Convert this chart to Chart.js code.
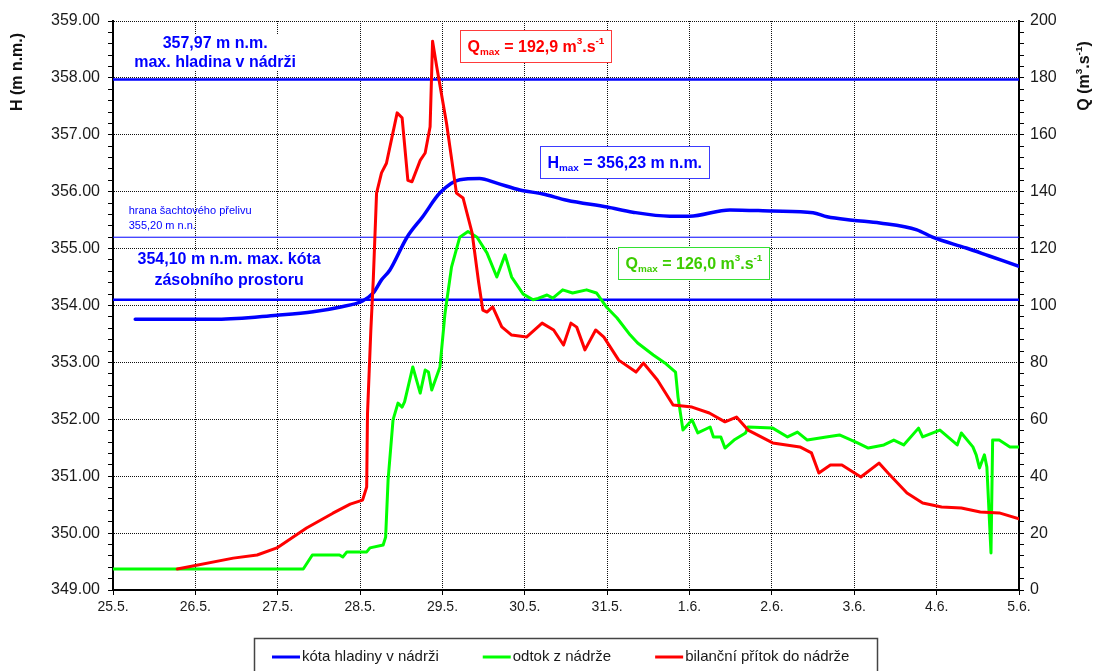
<!DOCTYPE html>
<html>
<head>
<meta charset="utf-8">
<title>Průběh povodně na nádrži</title>
<script src="https://cdn.jsdelivr.net/npm/chart.js@4.4.1/dist/chart.umd.min.js"></script>
<style>
  html, body { margin: 0; padding: 0; background: #fff; }
  #wrap { width: 1096px; height: 671px; }
</style>
</head>
<body>
<div id="wrap"><canvas id="flood"></canvas></div>
<script>
// x axis runs in days from 25.5. (0) to 5.6. (11)
const dayLabels = ['25.5.', '26.5.', '27.5.', '28.5.', '29.5.', '30.5.', '31.5.', '1.6.', '2.6.', '3.6.', '4.6.', '5.6.'];

// water level in the reservoir, m n.m.
const levelDays = [0.27, 1.27, 1.99, 2.43, 2.75, 3.03, 3.16, 3.26, 3.36, 3.57, 3.76, 3.97, 4.21, 4.45, 4.66, 4.94, 5.22, 5.51, 6.00, 6.31, 6.76, 7.00, 7.49, 8.01, 8.50, 8.67, 8.98, 9.31, 9.76, 9.95, 10.36, 10.64, 11.0];
const levelH = [353.76, 353.76, 353.83, 353.89, 353.97, 354.08, 354.22, 354.45, 354.62, 355.20, 355.56, 355.98, 356.21, 356.23, 356.15, 356.03, 355.96, 355.85, 355.73, 355.64, 355.57, 355.57, 355.68, 355.66, 355.63, 355.56, 355.50, 355.45, 355.33, 355.20, 355.01, 354.87, 354.69];

// outflow from the reservoir, m3/s
const outflowDays = [0, 2.31, 2.42, 2.75, 2.79, 2.84, 3.08, 3.12, 3.28, 3.31, 3.34, 3.40, 3.46, 3.51, 3.54, 3.64, 3.73, 3.79, 3.83, 3.87, 3.97, 4.03, 4.11, 4.21, 4.31, 4.42, 4.54, 4.66, 4.76, 4.84, 4.98, 5.10, 5.16, 5.27, 5.34, 5.46, 5.58, 5.75, 5.87, 5.99, 6.12, 6.28, 6.37, 6.56, 6.70, 6.83, 6.86, 6.92, 7.03, 7.10, 7.25, 7.29, 7.38, 7.43, 7.54, 7.68, 7.71, 8.01, 8.19, 8.31, 8.43, 8.66, 8.82, 9.04, 9.17, 9.36, 9.48, 9.60, 9.78, 9.83, 10.04, 10.25, 10.30, 10.44, 10.48, 10.52, 10.58, 10.61, 10.66, 10.68, 10.76, 10.89, 11.0];
const outflowQ = [7.4, 7.4, 12.3, 12.3, 11.6, 13.4, 13.4, 14.8, 15.8, 18.6, 38.7, 59.8, 65.7, 64.3, 66.1, 78.4, 69.2, 77.3, 76.6, 70.3, 78.4, 97.0, 113.5, 124.0, 126.0, 124.0, 118.5, 110.0, 117.8, 110.0, 104.0, 102.0, 102.5, 103.7, 102.6, 105.5, 104.4, 105.5, 104.4, 99.5, 95.6, 89.6, 86.8, 82.6, 79.8, 76.6, 67.8, 56.2, 59.8, 55.2, 57.3, 53.8, 53.8, 49.9, 52.7, 55.2, 57.3, 56.9, 53.8, 55.5, 52.7, 53.8, 54.5, 51.7, 49.9, 51.0, 52.7, 51.0, 56.9, 53.8, 56.2, 51.0, 55.2, 50.3, 47.5, 42.9, 47.5, 43.2, 13.0, 52.7, 52.7, 50.3, 50.3];

// balance inflow into the reservoir, m3/s
const inflowDays = [0.78, 1.46, 1.75, 1.99, 2.35, 2.67, 2.88, 3.03, 3.08, 3.09, 3.13, 3.16, 3.20, 3.26, 3.32, 3.45, 3.51, 3.58, 3.63, 3.73, 3.79, 3.85, 3.88, 3.93, 4.05, 4.17, 4.25, 4.36, 4.44, 4.49, 4.54, 4.61, 4.72, 4.84, 5.02, 5.21, 5.35, 5.47, 5.56, 5.63, 5.73, 5.86, 5.96, 6.14, 6.35, 6.44, 6.61, 6.80, 7.03, 7.24, 7.43, 7.57, 7.71, 8.01, 8.34, 8.48, 8.57, 8.71, 8.85, 9.08, 9.30, 9.41, 9.64, 9.83, 10.06, 10.30, 10.53, 10.76, 11.0];
const inflowQ = [7.4, 11.2, 12.3, 14.8, 21.8, 27.0, 30.2, 31.6, 36.2, 62.0, 91.0, 109.0, 139.5, 146.6, 150.0, 167.7, 166.0, 144.0, 143.5, 151.0, 153.6, 162.8, 192.9, 184.0, 164.0, 139.5, 137.8, 125.5, 108.0, 98.4, 97.7, 99.5, 92.5, 89.6, 88.9, 93.8, 91.4, 86.1, 93.8, 92.4, 84.4, 91.4, 88.9, 80.8, 76.6, 79.8, 73.8, 65.0, 64.3, 62.2, 59.1, 60.8, 56.2, 51.7, 50.3, 48.2, 41.1, 43.9, 43.9, 39.7, 44.6, 41.1, 34.1, 30.6, 29.2, 28.8, 27.4, 27.1, 25.0];

// max. hladina, hrana přelivu, max. kóta zásobního prostoru
const refLevels = [357.97, 355.20, 354.10];
const refWidths = [2.5, 1, 2.5];

const FONT = '"Liberation Sans", Arial, sans-serif';
const BLUE = '#0000ff';
const GREEN = '#00ff00';
const RED = '#ff0000';
const INK = '#1a1a1a';
const GRID = '#111';

function pts(xs, ys) {
    return xs.map((x, i) => ({ x: x, y: ys[i] }));
}
function czNum(v, d) {
    return v.toFixed(d).replace('.', ',');
}
function isWhole(v) {
    return Math.abs(v - Math.round(v)) < 1e-6;
}

// text made of runs, each run [text, 'sub' | 'sup' | '']
function richWidth(ctx, parts, size, weight) {
    let w = 0;
    parts.forEach(p => {
        ctx.font = `${weight} ${p[1] ? size * 0.62 : size}px ${FONT}`;
        w += ctx.measureText(p[0]).width;
    });
    return w;
}
function drawRich(ctx, parts, x, y, size, weight, color) {
    ctx.fillStyle = color;
    ctx.textAlign = 'left';
    ctx.textBaseline = 'alphabetic';
    parts.forEach(p => {
        ctx.font = `${weight} ${p[1] ? size * 0.62 : size}px ${FONT}`;
        const dy = p[1] === 'sub' ? size * 0.22 : (p[1] === 'sup' ? -size * 0.45 : 0);
        ctx.fillText(p[0], x, y + dy);
        x += ctx.measureText(p[0]).width;
    });
}

const qIn = Math.max(...inflowQ);
const qOut = Math.max(...outflowQ);
const hMax = Math.max(...levelH);

// framed value boxes: centre in data units (day, H)
const valueBoxes = [
    { day: 5.13, h: 358.56, color: RED, frame: '#ff3b3b',
      parts: [['Q', ''], ['max', 'sub'], [' = ' + czNum(qIn, 1) + ' m', ''], ['3', 'sup'], ['.s', ''], ['-1', 'sup']] },
    { day: 6.21, h: 356.52, color: BLUE, frame: '#3b3bff',
      parts: [['H', ''], ['max', 'sub'], [' = ' + czNum(hMax, 2) + ' m n.m.', '']] },
    { day: 7.05, h: 354.74, color: '#3ccc00', frame: '#33e033',
      parts: [['Q', ''], ['max', 'sub'], [' = ' + czNum(qOut, 1) + ' m', ''], ['3', 'sup'], ['.s', ''], ['-1', 'sup']] }
];

// level captions
const levelNotes = [
    { day: 1.24, h: 358.53, size: 16, weight: 'bold', align: 'center', gap: 19, bg: true,
      lines: [czNum(refLevels[0], 2) + ' m n.m.', 'max. hladina v nádrži'] },
    { day: 0.19, h: 355.61, size: 11, weight: 'normal', align: 'left', gap: 15, bg: false,
      lines: ['hrana šachtového přelivu', czNum(refLevels[1], 2) + ' m n.n.'] },
    { day: 1.41, h: 354.73, size: 16, weight: 'bold', align: 'center', gap: 21, bg: true,
      lines: [czNum(refLevels[2], 2) + ' m n.m. max. kóta', 'zásobního prostoru'] }
];

const annotations = {
    id: 'annotations',
    beforeDatasetsDraw(chart) {
        const ctx = chart.ctx;
        const xs = chart.scales.x, ys = chart.scales.yH;
        ctx.save();
        levelNotes.forEach(n => {
            const x = xs.getPixelForValue(n.day);
            const y = ys.getPixelForValue(n.h);
            ctx.font = `${n.weight} ${n.size}px ${FONT}`;
            if (n.bg) {
                const w = Math.max(...n.lines.map(l => ctx.measureText(l).width)) + 8;
                const left = n.align === 'center' ? x - w / 2 : x - 4;
                ctx.fillStyle = '#fff';
                ctx.fillRect(left, y - n.size * 0.8, w, n.gap * (n.lines.length - 1) + n.size);
            }
            ctx.fillStyle = BLUE;
            ctx.textAlign = n.align;
            ctx.textBaseline = 'alphabetic';
            n.lines.forEach((l, i) => ctx.fillText(l, x, y + i * n.gap));
        });
        ctx.restore();
    },
    afterDatasetsDraw(chart) {
        const ctx = chart.ctx;
        const xs = chart.scales.x, ys = chart.scales.yH;
        ctx.save();
        valueBoxes.forEach(b => {
            const cx = xs.getPixelForValue(b.day);
            const cy = ys.getPixelForValue(b.h);
            const tw = richWidth(ctx, b.parts, 16, 'bold');
            const w = Math.round(tw + 14), h = 32;
            const left = Math.round(cx - w / 2) + 0.5, top = Math.round(cy - h / 2) + 0.5;
            ctx.fillStyle = '#fff';
            ctx.fillRect(left, top, w, h);
            ctx.strokeStyle = b.frame;
            ctx.lineWidth = 1;
            ctx.strokeRect(left, top, w, h);
            drawRich(ctx, b.parts, left + 7, top + 21, 16, 'bold', b.color);
        });
        ctx.restore();
    }
};

// axis titles at the top of both y axes, both reading bottom to top
const axisTitles = {
    id: 'axisTitles',
    afterDraw(chart) {
        const ctx = chart.ctx;
        const titles = [
            { x: 17, y: 72, parts: [['H (m n.m.)', '']] },
            { x: 1084, y: 76, parts: [['Q (m', ''], ['3', 'sup'], ['.s', ''], ['-1', 'sup'], [')', '']] }
        ];
        titles.forEach(t => {
            ctx.save();
            ctx.translate(t.x, t.y);
            ctx.rotate(-Math.PI / 2);
            const w = richWidth(ctx, t.parts, 16, 'bold');
            drawRich(ctx, t.parts, -w / 2, 5, 16, 'bold', '#111');
            ctx.restore();
        });
    }
};

// framed legend under the x axis
const legendOrder = [2, 1, 0];
const boxLegend = {
    id: 'boxLegend',
    afterDraw(chart) {
        const ctx = chart.ctx;
        ctx.save();
        ctx.strokeStyle = '#444';
        ctx.lineWidth = 1.5;
        ctx.strokeRect(254.5, 638.5, 623, 40);
        let x = 272;
        const y = 657;
        ctx.font = `15px ${FONT}`;
        ctx.textBaseline = 'middle';
        ctx.textAlign = 'left';
        legendOrder.forEach(i => {
            const ds = chart.data.datasets[i];
            ctx.strokeStyle = ds.borderColor;
            ctx.lineWidth = 3;
            ctx.beginPath();
            ctx.moveTo(x, y);
            ctx.lineTo(x + 28, y);
            ctx.stroke();
            x += 30;
            ctx.fillStyle = INK;
            ctx.fillText(ds.label, x, y);
            x += ctx.measureText(ds.label).width + 44;
        });
        ctx.restore();
    }
};

const lastDay = dayLabels.length - 1;
const datasets = [
    { label: 'bilanční přítok do nádrže', data: pts(inflowDays, inflowQ), yAxisID: 'yQ',
      borderColor: RED, borderWidth: 3, order: 0 },
    { label: 'odtok z nádrže', data: pts(outflowDays, outflowQ), yAxisID: 'yQ',
      borderColor: GREEN, borderWidth: 3, order: 1 },
    { label: 'kóta hladiny v nádrži', data: pts(levelDays, levelH), yAxisID: 'yH',
      borderColor: BLUE, borderWidth: 3.5, order: 2, cubicInterpolationMode: 'monotone' }
];
refLevels.forEach((h, i) => {
    datasets.push({ label: '', data: [{ x: 0, y: h }, { x: lastDay, y: h }], yAxisID: 'yH',
        borderColor: BLUE, borderWidth: refWidths[i], order: 3 });
});

new Chart(document.getElementById('flood').getContext('2d'), {
    type: 'line',
    data: { datasets: datasets },
    options: {
        responsive: true,
        maintainAspectRatio: false,
        animation: false,
        layout: { padding: { top: 21 } },
        elements: {
            point: { radius: 0 },
            line: { tension: 0, fill: false, borderCapStyle: 'round', borderJoinStyle: 'round' }
        },
        plugins: {
            legend: { display: false },
            tooltip: { enabled: false }
        },
        scales: {
            x: {
                type: 'linear',
                min: 0,
                max: lastDay,
                ticks: {
                    stepSize: 1,
                    autoSkip: false,
                    maxRotation: 0,
                    padding: 4,
                    color: INK,
                    font: { family: FONT, size: 14 },
                    callback: v => dayLabels[v]
                },
                grid: { color: GRID, tickColor: '#000', tickLength: 5 },
                border: { color: '#000', width: 2, dash: [1, 1] },
                afterFit: s => { s.height = 81; }
            },
            yH: {
                position: 'left',
                min: 349,
                max: 359,
                ticks: {
                    stepSize: 0.2,
                    autoSkip: false,
                    padding: 8,
                    color: INK,
                    font: { family: FONT, size: 16 },
                    callback: v => isWhole(v) ? v.toFixed(2) : ''
                },
                grid: {
                    color: c => isWhole(c.tick.value) ? GRID : 'rgba(0,0,0,0)',
                    tickColor: '#000',
                    tickLength: 5
                },
                border: { color: '#000', width: 2, dash: [1, 1] },
                afterFit: s => { s.width = 113; }
            },
            yQ: {
                position: 'right',
                min: 0,
                max: 200,
                ticks: {
                    stepSize: 4,
                    autoSkip: false,
                    padding: 6,
                    color: INK,
                    font: { family: FONT, size: 16 },
                    callback: v => v % 20 === 0 ? String(v) : ''
                },
                grid: { drawOnChartArea: false, tickColor: '#000', tickLength: 5 },
                border: { color: '#000', width: 2 },
                afterFit: s => { s.width = 77; }
            }
        }
    },
    plugins: [annotations, axisTitles, boxLegend]
});
</script>
</body>
</html>
